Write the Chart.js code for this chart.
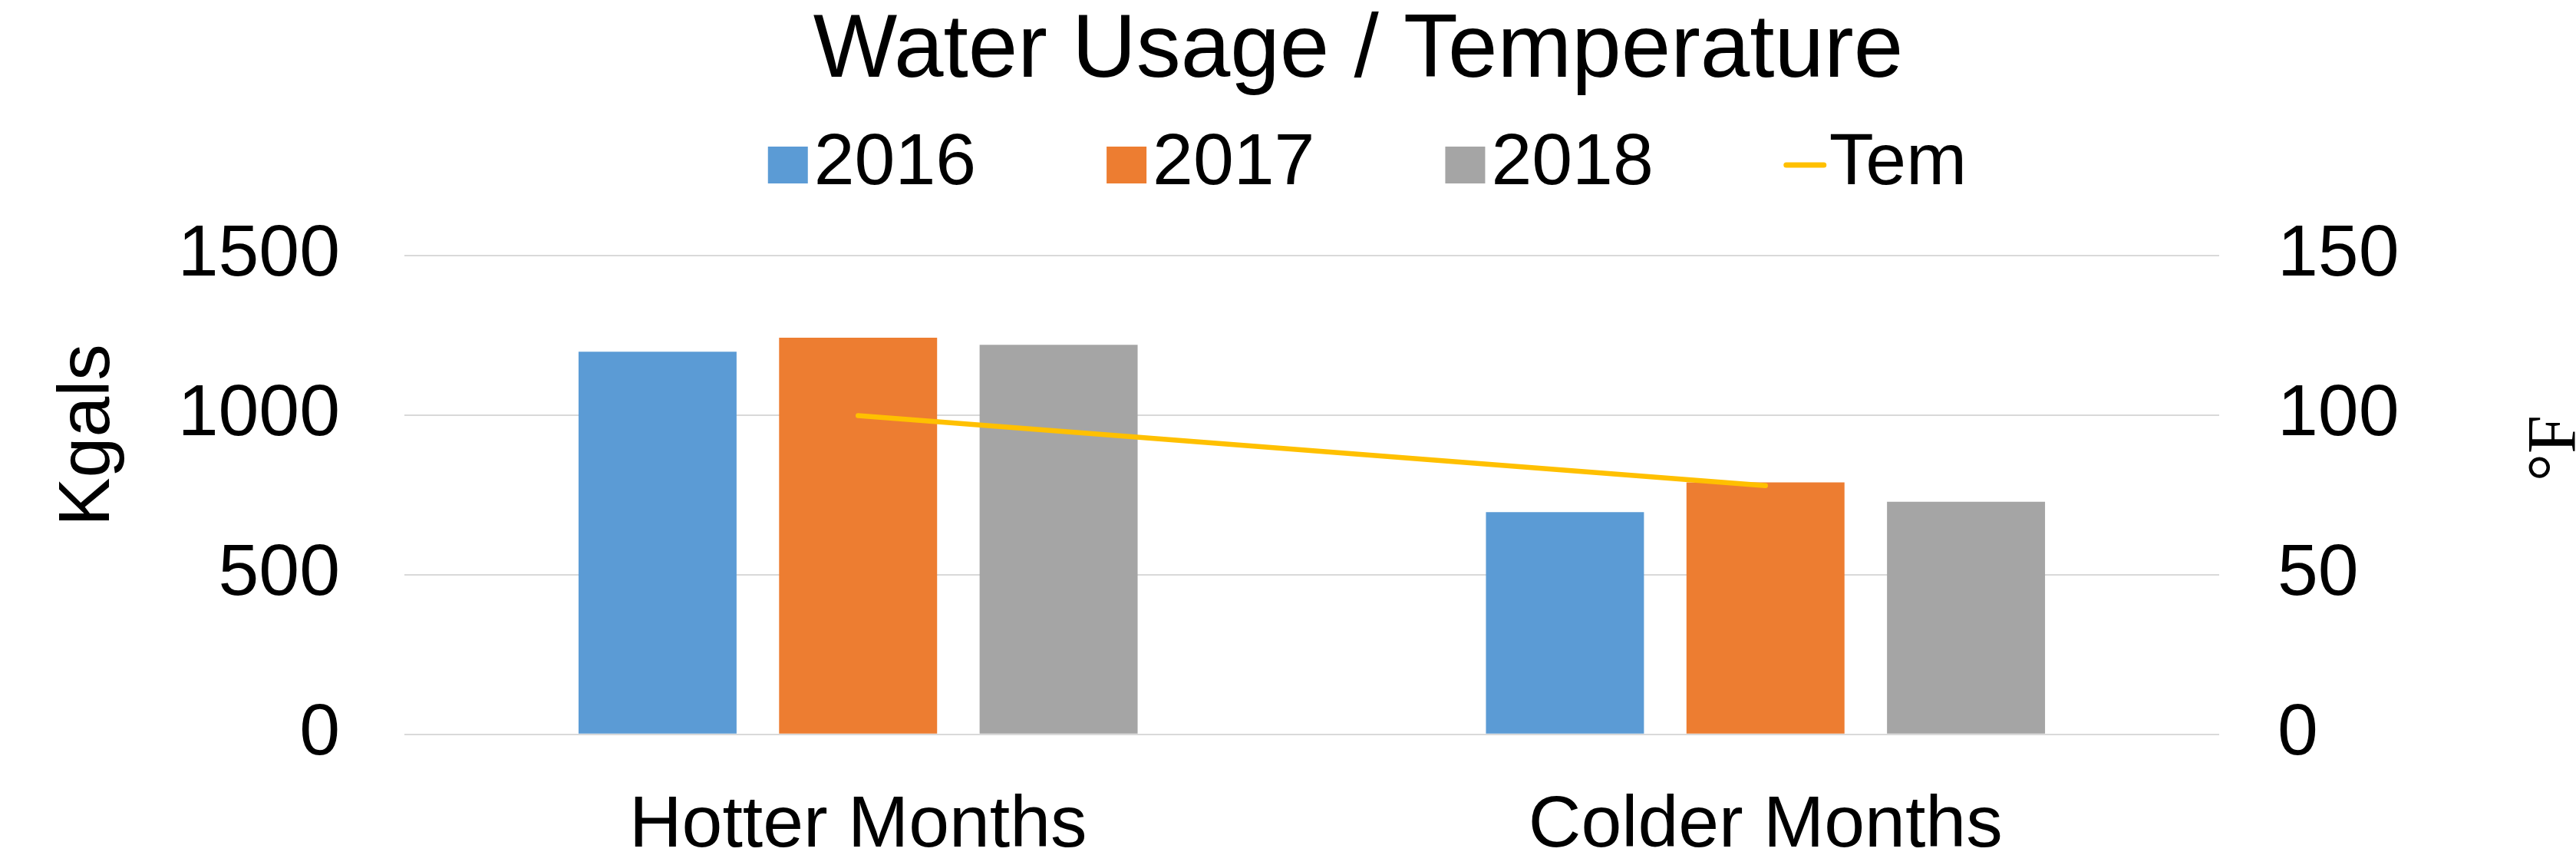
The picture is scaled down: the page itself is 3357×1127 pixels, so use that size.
<!DOCTYPE html>
<html lang="en">
<head>
  <meta charset="UTF-8">
  <title>Water Usage / Temperature</title>
  <script src="https://cdn.jsdelivr.net/npm/chart.js"></script>
  <style>
    html, body { margin: 0; padding: 0; background: #fff; }
    #wrap { width: 3357px; height: 1127px; position: relative; }
  </style>
</head>
<body>
  <div id="wrap"><canvas id="waterChart"></canvas></div>
  <script>
    // data
    const categories = ['Hotter Months', 'Colder Months'];
    const usage2016 = [1198, 696];
    const usage2017 = [1242, 789];
    const usage2018 = [1220, 728];
    const temperature = [99.8, 77.9];
    const kgalsTicks = [0, 500, 1000, 1500];
    const tempTicks = [0, 50, 100, 150];

    const FONT = "'Liberation Sans', Arial, sans-serif";
    Chart.defaults.font.family = FONT;
    Chart.defaults.color = '#000';

    // rotated axis titles (both read bottom to top, like the original)
    const axisTitles = {
      id: 'axisTitles',
      afterDraw(chart) {
        const ctx = chart.ctx;
        ctx.save();
        ctx.fillStyle = '#000';
        ctx.textAlign = 'center';
        ctx.textBaseline = 'alphabetic';
        ctx.font = '95px ' + FONT;
        ctx.translate(142, 567);
        ctx.rotate(-Math.PI / 2);
        ctx.fillText('Kgals', 0, 0);
        ctx.restore();

        ctx.save();
        ctx.fillStyle = '#000';
        ctx.textAlign = 'center';
        ctx.textBaseline = 'alphabetic';
        ctx.font = "90px 'Liberation Serif', 'Times New Roman', serif";
        ctx.translate(3356, 584);
        ctx.rotate(-Math.PI / 2);
        ctx.fillText('°F', 0, 0);
        ctx.restore();
      }
    };

    // legend row under the title, box sits close to its text
    const legendRow = {
      id: 'legendRow',
      afterDraw(chart) {
        const ctx = chart.ctx;
        ctx.save();
        ctx.font = '95px ' + FONT;
        ctx.textAlign = 'left';
        ctx.textBaseline = 'middle';
        const items = chart.data.datasets.map(ds => {
          const isLine = ds.type === 'line';
          const mark = isLine ? 55 : 52;
          const gap = isLine ? 4 : 8;
          return { ds, isLine, mark, gap, w: mark + gap + ctx.measureText(ds.label).width };
        });
        const spacing = 170;
        const total = items.reduce((s, it) => s + it.w, 0) + spacing * (items.length - 1);
        const tb = chart.titleBlock;
        let x = (tb.left + tb.right) / 2 - total / 2 + 12;
        const y = 214;
        items.forEach(it => {
          if (it.isLine) {
            ctx.strokeStyle = it.ds.borderColor;
            ctx.lineWidth = 7;
            ctx.lineCap = 'round';
            ctx.beginPath();
            ctx.moveTo(x + 3, y + 1);
            ctx.lineTo(x + it.mark - 3, y + 1);
            ctx.stroke();
          } else {
            ctx.fillStyle = it.ds.backgroundColor;
            ctx.fillRect(x, y - 23, it.mark, 48);
          }
          ctx.fillStyle = '#000';
          ctx.fillText(it.ds.label, x + it.mark + it.gap, y);
          x += it.w + spacing;
        });
        ctx.restore();
      }
    };

    const plainNumber = v => String(v);
    const barOpts = { categoryPercentage: 0.663, barPercentage: 0.788, borderWidth: 0, order: 1 };

    const waterChart = new Chart(document.getElementById('waterChart'), {
      type: 'bar',
      data: {
        labels: categories,
        datasets: [
          { label: '2016', data: usage2016, backgroundColor: '#5B9BD5', ...barOpts },
          { label: '2017', data: usage2017, backgroundColor: '#ED7D31', ...barOpts },
          { label: '2018', data: usage2018, backgroundColor: '#A5A5A5', ...barOpts },
          {
            type: 'line',
            label: 'Tem',
            data: temperature,
            yAxisID: 'y1',
            borderColor: '#FFC000',
            backgroundColor: '#FFC000',
            borderWidth: 6.5,
            borderCapStyle: 'round',
            pointRadius: 0,
            tension: 0,
            order: 0
          }
        ]
      },
      options: {
        responsive: true,
        maintainAspectRatio: false,
        animation: false,
        events: [],
        layout: { padding: { left: 183, right: 0, top: 0, bottom: 0 } },
        plugins: {
          legend: { display: false },
          tooltip: { enabled: false },
          title: {
            display: true,
            text: 'Water Usage / Temperature',
            color: '#000',
            font: { size: 116, weight: 'normal', lineHeight: 1.17 },
            padding: { top: 0, bottom: 197 }
          }
        },
        scales: {
          x: {
            grid: { display: false },
            border: { display: false },
            ticks: { font: { size: 95 }, padding: 55, maxRotation: 0, autoSkip: false },
            afterFit: s => { s.height = 170.3; }
          },
          y: {
            position: 'left',
            min: kgalsTicks[0],
            max: kgalsTicks[kgalsTicks.length - 1],
            afterBuildTicks: s => { s.ticks = kgalsTicks.map(v => ({ value: v })); },
            grid: { color: '#D9D9D9', lineWidth: 2, drawTicks: false },
            border: { display: false },
            ticks: { font: { size: 95 }, padding: 84, callback: plainNumber },
            afterFit: s => { s.width = 344; }
          },
          y1: {
            position: 'right',
            min: tempTicks[0],
            max: tempTicks[tempTicks.length - 1],
            afterBuildTicks: s => { s.ticks = tempTicks.map(v => ({ value: v })); },
            grid: { drawOnChartArea: false, drawTicks: false },
            border: { display: false },
            ticks: { font: { size: 95 }, padding: 76, callback: plainNumber },
            afterFit: s => { s.width = 465; }
          }
        }
      },
      plugins: [axisTitles, legendRow]
    });
  </script>
</body>
</html>
